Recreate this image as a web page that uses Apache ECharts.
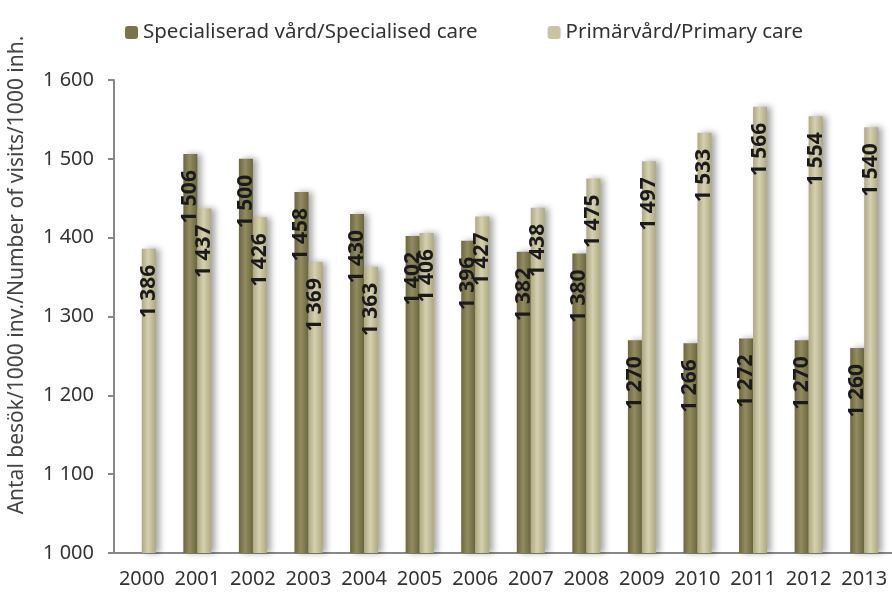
<!DOCTYPE html>
<html>
<head>
<meta charset="utf-8">
<script src="https://cdn.jsdelivr.net/npm/echarts@6/dist/echarts.min.js"></script>
<style>
  html, body { margin: 0; padding: 0; background: #fff; }
  #chart { width: 892px; height: 595px; }
</style>
</head>
<body>
<div id="chart"></div>
<script>
// år / years
const years = ['2000', '2001', '2002', '2003', '2004', '2005', '2006',
  '2007', '2008', '2009', '2010', '2011', '2012', '2013'];
// Specialiserad vård (ingen stapel för 2000)
const specialised = [null, 1506, 1500, 1458, 1430, 1402, 1396,
  1382, 1380, 1270, 1266, 1272, 1270, 1260];
// Primärvård
const primary = [1386, 1437, 1426, 1369, 1363, 1406, 1427,
  1438, 1475, 1497, 1533, 1566, 1554, 1540];
const yTicks = [1000, 1100, 1200, 1300, 1400, 1500, 1600];

const fmt = v => {
  const s = String(v);
  return s.length > 3 ? s.slice(0, -3) + ' ' + s.slice(-3) : s;
};

const font = '"Noto Sans", sans-serif';

const barGrad = (edge, mid) => new echarts.graphic.LinearGradient(0, 0, 1, 0, [
  { offset: 0, color: edge },
  { offset: 0.45, color: mid },
  { offset: 1, color: edge }
]);

const valueLabel = {
  show: true,
  position: 'insideTop',
  distance: 16,
  rotate: 90,
  align: 'right',
  verticalAlign: 'middle',
  fontFamily: font,
  fontWeight: 'bold',
  fontSize: 21,
  color: '#1a1a1a',
  formatter: p => fmt(p.value)
};

const chart = echarts.init(document.getElementById('chart'));
const option = {
  animation: false,
  grid: { left: 114, right: 0, top: 80, bottom: 42 },
  legend: {
    top: 17,
    left: 120,
    itemWidth: 13,
    itemHeight: 13,
    itemGap: 70,
    textStyle: { fontFamily: font, fontSize: 20.5, color: '#333' },
    data: [
      { name: 'Specialiserad vård/Specialised care', itemStyle: { color: '#7a7549' } },
      { name: 'Primärvård/Primary care', itemStyle: { color: '#c9c4a0' } }
    ]
  },
  graphic: [{
    type: 'text',
    x: 17,
    y: 275,
    rotation: Math.PI / 2,
    style: {
      text: 'Antal besök/1000 inv./Number of visits/1000 inh.',
      fontFamily: font,
      fontSize: 21,
      fill: '#444',
      align: 'center',
      verticalAlign: 'middle'
    }
  }],
  xAxis: {
    type: 'category',
    data: years,
    axisLine: { lineStyle: { color: '#888', width: 2 } },
    axisTick: { length: 6, lineStyle: { color: '#888', width: 2 } },
    axisLabel: { interval: 0, fontFamily: font, fontSize: 20, color: '#333', margin: 16 }
  },
  yAxis: {
    type: 'value',
    min: yTicks[0],
    max: yTicks[yTicks.length - 1],
    interval: 100,
    splitLine: { show: false },
    axisLine: { show: true, lineStyle: { color: '#888', width: 2 } },
    axisTick: { show: true, length: 6, lineStyle: { color: '#888', width: 2 } },
    axisLabel: { fontFamily: font, fontSize: 20, color: '#333', margin: 20, formatter: fmt }
  },
  series: [
    {
      name: 'Specialiserad vård/Specialised care',
      type: 'bar',
      data: specialised,
      barWidth: 14,
      barGap: '0%',
      itemStyle: {
        color: barGrad('#6b663e', '#928c5e'),
        shadowColor: 'rgba(0,0,0,0.35)',
        shadowBlur: 6,
        shadowOffsetX: 4
      },
      label: valueLabel
    },
    {
      name: 'Primärvård/Primary care',
      type: 'bar',
      data: primary,
      barWidth: 14,
      itemStyle: {
        color: barGrad('#aea882', '#d5d0ae'),
        shadowColor: 'rgba(0,0,0,0.35)',
        shadowBlur: 6,
        shadowOffsetX: 4
      },
      label: valueLabel
    }
  ]
};
chart.setOption(option);
window.addEventListener('resize', () => chart.resize());
</script>
</body>
</html>
